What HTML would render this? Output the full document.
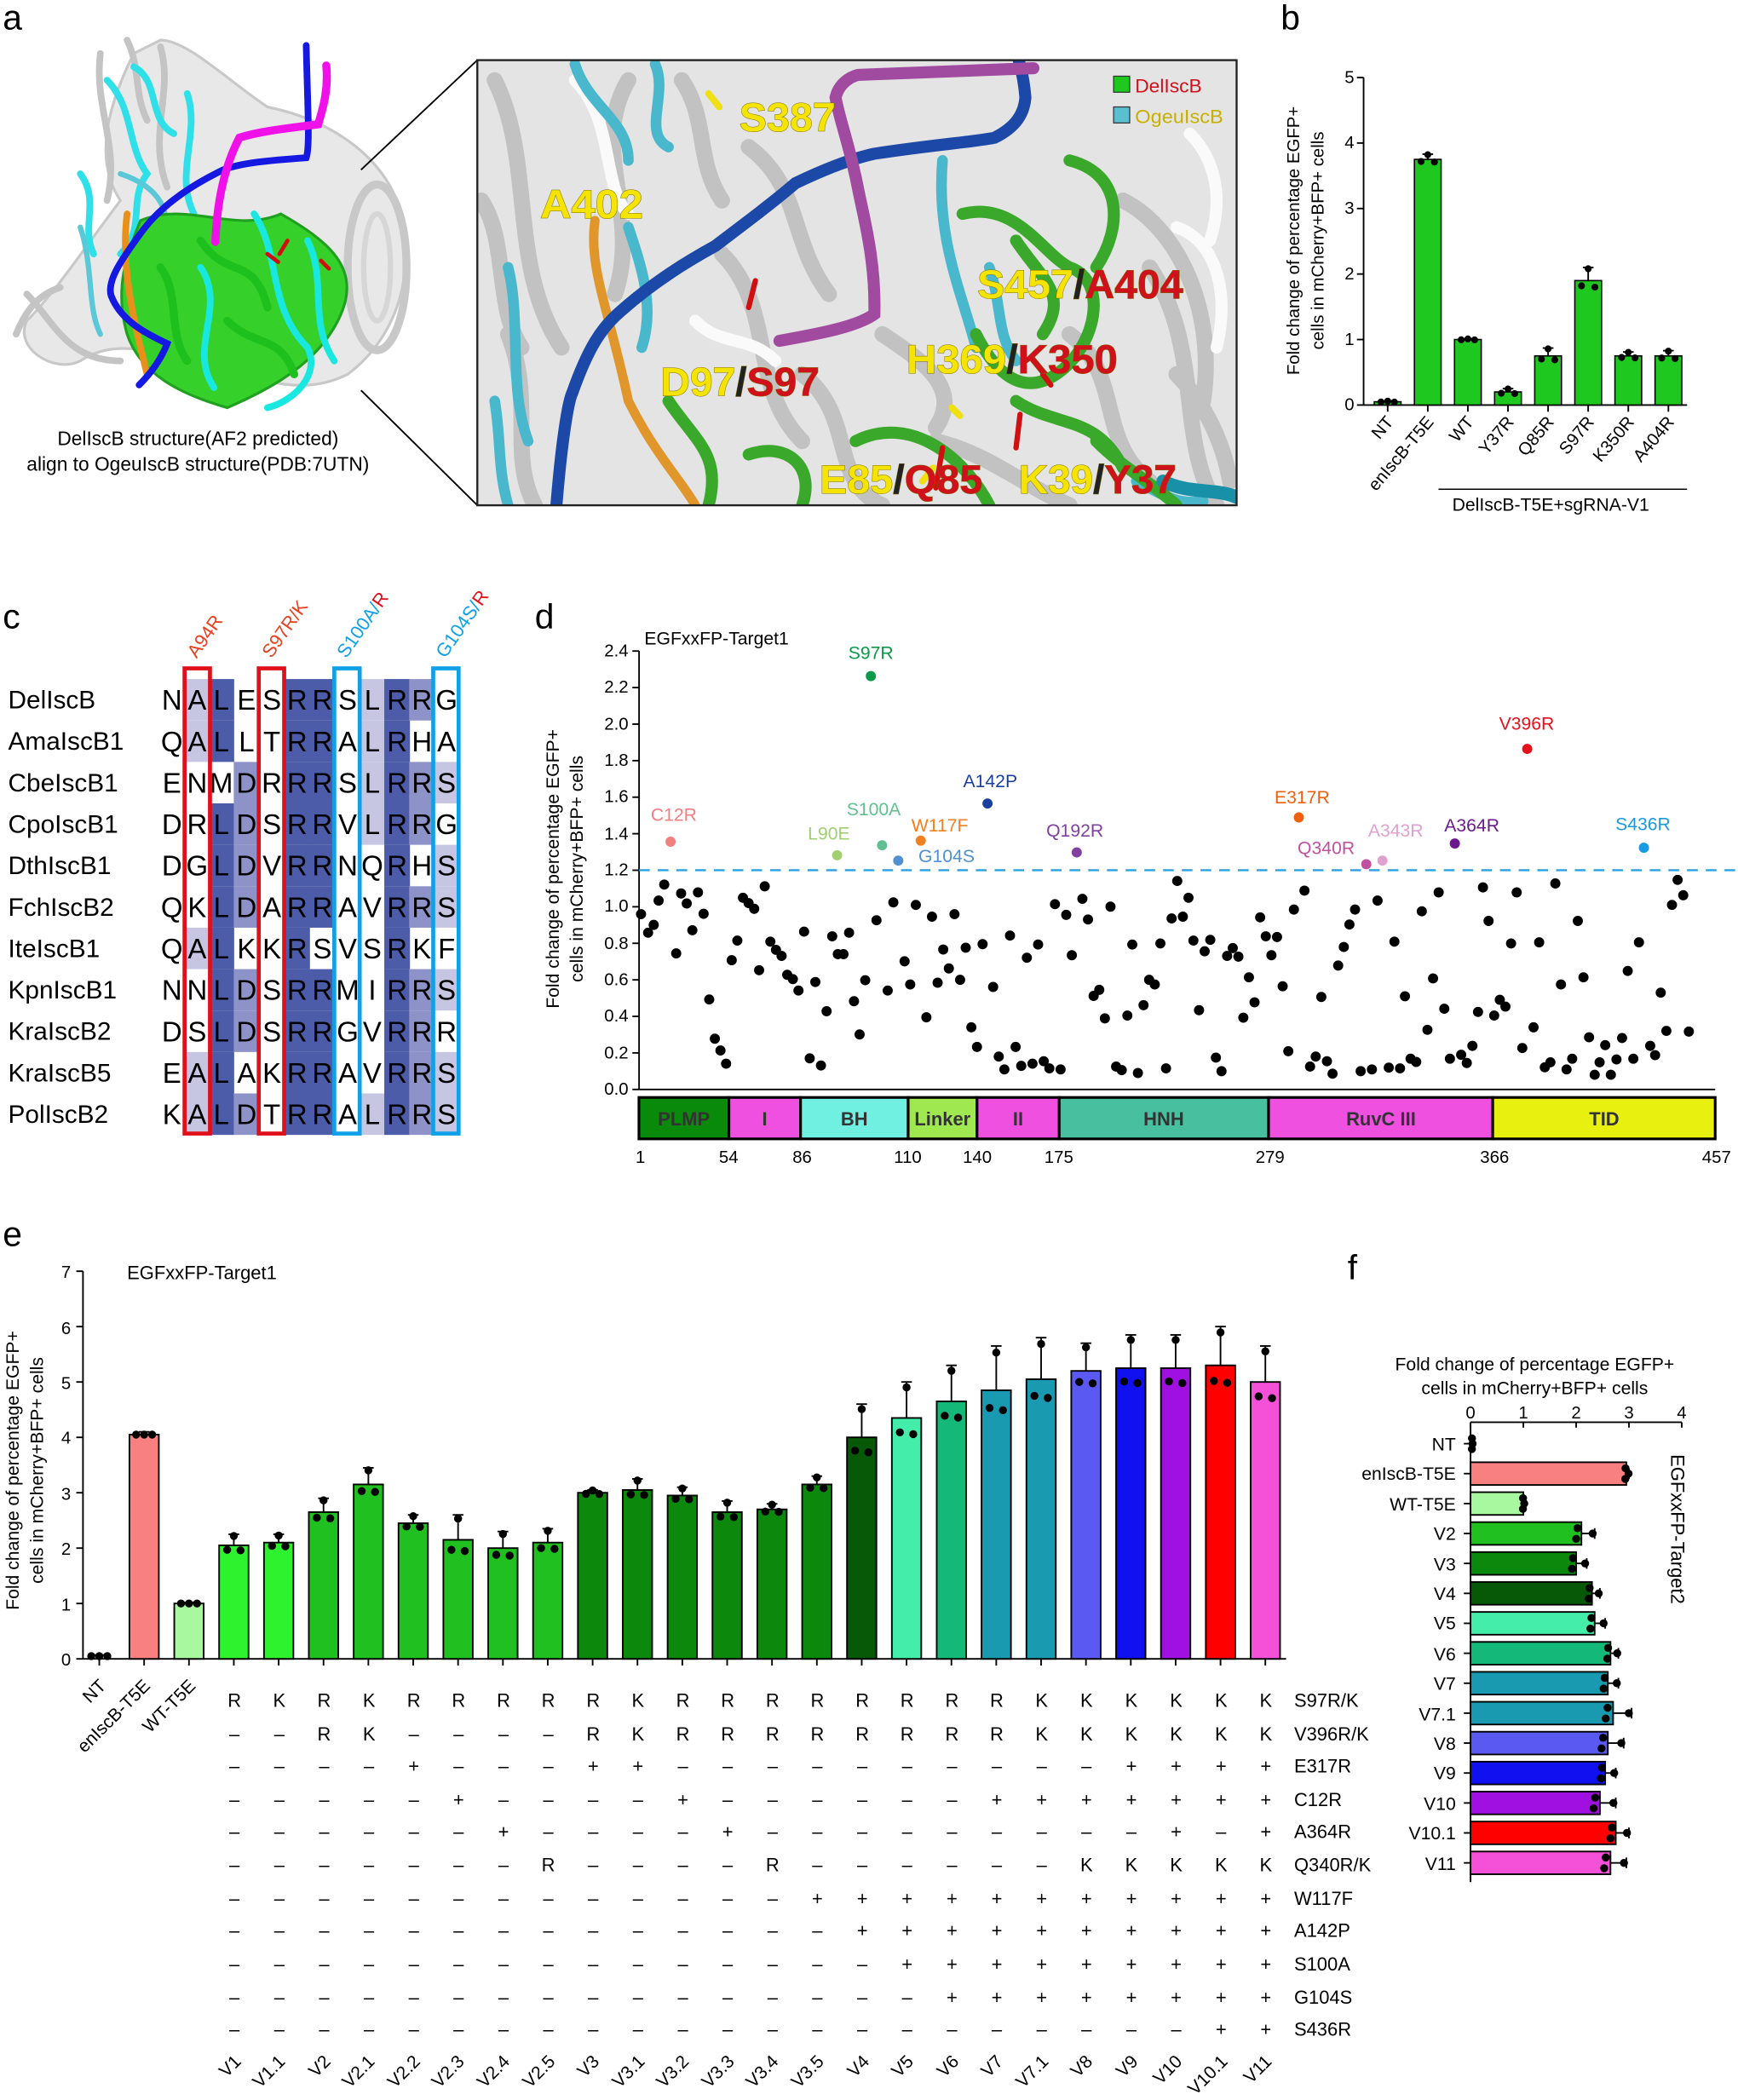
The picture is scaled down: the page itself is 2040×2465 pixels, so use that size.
<!DOCTYPE html>
<html><head><meta charset="utf-8"><style>
html,body{margin:0;padding:0;background:#fff}
svg{display:block}
text{font-family:"Liberation Sans",Arial,sans-serif}
</style></head><body>
<svg id="s" xmlns="http://www.w3.org/2000/svg" width="2040" height="2465" viewBox="0 0 1300 1571">
<rect width="1300" height="1571" fill="#fff"/>
<g font-size="26" fill="#000">
<text x="2" y="22">a</text><text x="958" y="22">b</text><text x="2" y="470">c</text>
<text x="400" y="470">d</text><text x="2" y="932">e</text><text x="1008" y="957">f</text>
</g>

<!-- ===== panel a left structure ===== -->
<g id="aleft" fill="none" stroke-linecap="round">
<path d="M100,40 C80,80 70,120 90,150 C60,190 40,220 20,240 C10,260 40,280 60,270 C90,250 120,270 140,260 C180,280 220,300 260,280 C300,250 310,200 300,160 C290,120 250,90 200,80 C170,60 140,30 120,30 Z" fill="#e8e8e8" stroke="#c8c8c8" stroke-width="2"/>
<path d="M75,40 C70,80 90,110 80,150 M120,35 C130,70 110,100 125,140 M20,220 C40,240 50,270 90,270 M12,250 C20,230 30,220 45,215 M95,30 C105,50 100,70 110,90" stroke="#c4c4c4" stroke-width="5"/>
<ellipse cx="282" cy="200" rx="22" ry="62" stroke="#c8c8c8" stroke-width="6"/>
<ellipse cx="282" cy="200" rx="10" ry="40" stroke="#d6d6d6" stroke-width="4"/>
<path d="M80,60 C100,80 95,110 110,130 C95,150 110,170 90,190 M140,70 C150,100 130,130 145,160 M100,50 C120,60 110,90 130,100 M60,130 C75,150 60,170 70,190" stroke="#30e0e8" stroke-width="5"/>
<path d="M60,170 C70,200 65,230 75,250 M90,130 C120,140 130,160 120,180" stroke="#5bc8d8" stroke-width="4"/>
<path d="M105,165 C140,150 175,175 210,160 C245,180 270,200 255,235 C240,270 205,290 170,305 C135,295 105,280 95,250 C85,215 95,190 105,165 Z" fill="#36d02a" stroke="#20a020" stroke-width="2"/>
<path d="M190,160 C210,190 200,230 230,260 C240,280 220,300 200,305 M150,200 C170,230 140,260 160,290 M230,180 C245,210 230,240 250,270" stroke="#18e8e0" stroke-width="5"/>
<path d="M120,200 C135,220 125,250 140,270 M150,180 C170,210 190,190 200,230 M170,240 C190,260 210,250 220,280" stroke="#1ec01e" stroke-width="6"/>
<path d="M95,160 C90,200 100,240 110,280" stroke="#e8901a" stroke-width="5"/>
<path d="M229,34 C230,80 232,110 229,118 C200,120 180,122 167,127 C140,140 120,155 107,172 C90,195 80,210 83,221 C90,240 110,250 125,257 C120,270 112,280 104,288" stroke="#1418e0" stroke-width="5"/>
<path d="M244,49 C246,70 240,85 238,93 C215,96 195,98 179,103 C165,130 162,160 161,181" stroke="#f010e8" stroke-width="6"/>
<path d="M200,190 l8,6 M215,180 l-6,10 M240,195 l6,6" stroke="#d01010" stroke-width="3"/>
</g>
<line x1="270" y1="127" x2="357" y2="45" stroke="#000" stroke-width="1.2"/>
<line x1="270" y1="292" x2="357" y2="378" stroke="#000" stroke-width="1.2"/>
<text x="148" y="333" font-size="14.5" text-anchor="middle">DelIscB structure(AF2 predicted)</text>
<text x="148" y="352" font-size="14.5" text-anchor="middle">align to OgeuIscB structure(PDB:7UTN)</text>

<!-- ===== panel a zoom box ===== -->
<defs><clipPath id="cb"><rect x="357" y="45" width="568" height="333"/></clipPath></defs>
<g clip-path="url(#cb)" fill="none" stroke-linecap="round">
<rect x="357" y="45" width="568" height="333" fill="#e4e4e4"/>
<path d="M370,60 C400,120 380,200 420,260 M470,60 C440,110 480,160 460,220 M840,150 C880,170 910,230 900,300 M860,200 C900,260 880,330 910,378 M380,250 C400,300 380,340 400,378 M540,190 C580,230 560,290 600,330 M600,280 C640,310 620,360 660,378 M800,250 C840,280 820,330 860,360 M700,330 C740,340 760,360 800,378 M360,150 C380,180 370,230 390,260 M560,110 C600,140 590,180 620,220 M660,250 C690,270 720,290 700,320 M880,280 C900,300 915,330 920,360 M510,60 C530,90 520,120 540,150" stroke="#c2c2c2" stroke-width="12"/>
<path d="M430,60 C460,90 450,140 470,160 M880,170 C910,180 920,220 910,260 M520,240 C540,260 560,250 580,270 M890,100 C910,120 915,150 905,180" stroke="#fafafa" stroke-width="9"/>
<path d="M430,48 C440,80 470,90 470,120 M490,48 C500,70 480,100 500,110 M705,120 C700,180 720,220 730,260 M380,200 C390,240 380,290 395,330 M470,170 C480,200 490,230 480,260 M850,360 C870,370 880,378 900,375 M370,300 C375,330 372,350 380,378 M740,200 C750,230 745,250 760,270" stroke="#4ab8cc" stroke-width="8"/>
<path d="M720,160 C760,150 780,190 800,200 C830,210 820,260 790,280 C760,300 740,270 730,250 M640,330 C680,310 720,340 740,378 M760,300 C790,320 820,310 840,350 M500,300 C520,330 540,340 530,378 M800,120 C840,130 840,170 820,200 M560,340 C590,330 610,350 600,378 M760,180 C780,210 800,220 780,250 M820,330 C840,350 860,360 880,378" stroke="#3aa82a" stroke-width="9"/>
<path d="M445,165 C440,200 455,230 470,300 C490,340 510,360 520,378" stroke="#e0962a" stroke-width="7"/>
<path d="M416,380 C420,330 425,300 428,294 C440,260 450,245 464,233 C490,210 515,195 535,184 C560,165 580,150 595,137 C620,125 640,118 654,115 C700,108 730,106 744,103 C760,95 766,85 767,73 C766,60 764,52 762,45" stroke="#1c48a8" stroke-width="9"/>
<path d="M583,255 C610,250 640,245 654,235 C655,200 648,170 643,147 C636,110 628,90 625,73 C628,60 640,56 643,56 C700,54 740,52 773,51" stroke="#a04aa0" stroke-width="9"/>
<path d="M870,360 C890,370 910,365 925,372" stroke="#1890a8" stroke-width="10"/>
<path d="M560,230 l5,-20 M700,365 l5,-30 M760,335 l3,-25 M780,280 l6,8" stroke="#d01010" stroke-width="4"/>
<path d="M530,70 l8,10 M712,305 l6,6 M690,360 l8,-10" stroke="#f0e010" stroke-width="5"/>
</g>
<rect x="357" y="45" width="568" height="333" fill="none" stroke="#222" stroke-width="1.5"/>
<rect x="833" y="57" width="12" height="12" fill="#1ec81e" stroke="#333" stroke-width="0.8"/>
<text x="849" y="69" font-size="14" fill="#d0101a" textLength="50" lengthAdjust="spacingAndGlyphs">DelIscB</text>
<rect x="833" y="80" width="12" height="12" fill="#5ac0d0" stroke="#333" stroke-width="0.8"/>
<text x="849" y="92" font-size="14" fill="#c8b000" textLength="66" lengthAdjust="spacingAndGlyphs">OgeuIscB</text>
<g font-size="30" font-weight="bold" stroke="#7a6a00" stroke-width="0.6" paint-order="stroke">
<text x="553" y="98" fill="#f5e400" textLength="72" lengthAdjust="spacingAndGlyphs">S387</text>
<text x="404" y="163" fill="#f5e400" textLength="77" lengthAdjust="spacingAndGlyphs">A402</text>
<text x="731" y="223" textLength="154" lengthAdjust="spacingAndGlyphs"><tspan fill="#f5e400">S457</tspan><tspan fill="#222">/</tspan><tspan fill="#d0101a">A404</tspan></text>
<text x="678" y="279" textLength="158" lengthAdjust="spacingAndGlyphs"><tspan fill="#f5e400">H369</tspan><tspan fill="#222">/</tspan><tspan fill="#d0101a">K350</tspan></text>
<text x="494" y="296" textLength="119" lengthAdjust="spacingAndGlyphs"><tspan fill="#f5e400">D97</tspan><tspan fill="#222">/</tspan><tspan fill="#d0101a">S97</tspan></text>
<text x="613" y="369" textLength="122" lengthAdjust="spacingAndGlyphs"><tspan fill="#f5e400">E85</tspan><tspan fill="#222">/</tspan><tspan fill="#d0101a">Q85</tspan></text>
<text x="762" y="369" textLength="118" lengthAdjust="spacingAndGlyphs"><tspan fill="#f5e400">K39</tspan><tspan fill="#222">/</tspan><tspan fill="#d0101a">Y37</tspan></text>
</g>

<!-- ===== panel b ===== -->
<g id="pb" font-size="13">
<g text-anchor="end">
<text x="1013" y="307">0</text><text x="1013" y="258">1</text><text x="1013" y="209">2</text><text x="1013" y="160">3</text><text x="1013" y="111">4</text><text x="1013" y="62">5</text>
</g>
<text transform="translate(972,180) rotate(-90)" text-anchor="middle" font-size="13">Fold change of percentage EGFP+</text>
<text transform="translate(990,180) rotate(-90)" text-anchor="middle" font-size="13">cells in mCherry+BFP+ cells</text>
<g font-size="13" text-anchor="end">
<text transform="translate(1043,316) rotate(-50)">NT</text>
<text transform="translate(1073,316) rotate(-50)">enIscB-T5E</text>
<text transform="translate(1103,316) rotate(-50)">WT</text>
<text transform="translate(1133,316) rotate(-50)">Y37R</text>
<text transform="translate(1163,316) rotate(-50)">Q85R</text>
<text transform="translate(1193,316) rotate(-50)">S97R</text>
<text transform="translate(1223,316) rotate(-50)">K350R</text>
<text transform="translate(1253,316) rotate(-50)">A404R</text>
</g>
<line x1="1076" y1="366" x2="1262" y2="366" stroke="#000" stroke-width="1"/>
<text x="1160" y="382" text-anchor="middle" font-size="13.5">DelIscB-T5E+sgRNA-V1</text>
</g>

<!-- ===== panel c ===== -->
<g id="pc"></g>
<g font-size="19" fill="#000">
<text x="6" y="530">DelIscB</text><text x="6" y="561">AmaIscB1</text><text x="6" y="592">CbeIscB1</text><text x="6" y="623">CpoIscB1</text><text x="6" y="654">DthIscB1</text><text x="6" y="685">FchIscB2</text><text x="6" y="716">IteIscB1</text><text x="6" y="747">KpnIscB1</text><text x="6" y="778">KraIscB2</text><text x="6" y="809">KraIscB5</text><text x="6" y="840">PolIscB2</text>
</g>
<g font-size="21" text-anchor="middle" fill="#000">
<text x="128.5 147.4 165.5 184.4 203.3 222.2 241.1 260 278.4 297 315.6 334" y="531">NALESRRSLRRG</text>
<text x="128.5 147.4 165.5 184.4 203.3 222.2 241.1 260 278.4 297 315.6 334" y="562">QALLTRRALRHA</text>
<text x="128.5 147.4 165.5 184.4 203.3 222.2 241.1 260 278.4 297 315.6 334" y="593">ENMDRRRSLRRS</text>
<text x="128.5 147.4 165.5 184.4 203.3 222.2 241.1 260 278.4 297 315.6 334" y="624">DRLDSRRVLRRG</text>
<text x="128.5 147.4 165.5 184.4 203.3 222.2 241.1 260 278.4 297 315.6 334" y="655">DGLDVRRNQRHS</text>
<text x="128.5 147.4 165.5 184.4 203.3 222.2 241.1 260 278.4 297 315.6 334" y="686">QKLDARRAVRRS</text>
<text x="128.5 147.4 165.5 184.4 203.3 222.2 241.1 260 278.4 297 315.6 334" y="717">QALKKRSVSRKF</text>
<text x="128.5 147.4 165.5 184.4 203.3 222.2 241.1 260 278.4 297 315.6 334" y="748">NNLDSRRMIRRS</text>
<text x="128.5 147.4 165.5 184.4 203.3 222.2 241.1 260 278.4 297 315.6 334" y="779">DSLDSRRGVRRR</text>
<text x="128.5 147.4 165.5 184.4 203.3 222.2 241.1 260 278.4 297 315.6 334" y="810">EALAKRRAVRRS</text>
<text x="128.5 147.4 165.5 184.4 203.3 222.2 241.1 260 278.4 297 315.6 334" y="841">KALDTRRALRRS</text>
</g>
<g fill="none" stroke-width="3">
<rect x="138" y="500" width="19" height="348" stroke="#e0101a"/>
<rect x="193.5" y="500" width="19" height="348" stroke="#e0101a"/>
<rect x="250" y="500" width="19" height="348" stroke="#10a0e8"/>
<rect x="324" y="500" width="19" height="348" stroke="#10a0e8"/>
</g>
<g font-size="14">
<text transform="translate(147,493) rotate(-55)" fill="#e84020">A94R</text>
<text transform="translate(203,493) rotate(-55)" fill="#e84020">S97R/K</text>
<text transform="translate(259,493) rotate(-55)"><tspan fill="#10a0e8">S100A/</tspan><tspan fill="#e0101a">R</tspan></text>
<text transform="translate(333,493) rotate(-55)"><tspan fill="#10a0e8">G104S/</tspan><tspan fill="#e0101a">R</tspan></text>
</g>

<!-- ===== panel d ===== -->
<text x="482" y="482" font-size="13.5">EGFxxFP-Target1</text>
<g font-size="13" text-anchor="end">
<text x="470" y="819">0.0</text><text x="470" y="792">0.2</text><text x="470" y="764">0.4</text><text x="470" y="737">0.6</text><text x="470" y="710">0.8</text><text x="470" y="682">1.0</text><text x="470" y="655">1.2</text><text x="470" y="628">1.4</text><text x="470" y="600">1.6</text><text x="470" y="573">1.8</text><text x="470" y="546">2.0</text><text x="470" y="518">2.2</text><text x="470" y="491">2.4</text>
</g>
<text transform="translate(418,650) rotate(-90)" text-anchor="middle" font-size="13.5">Fold change of percentage EGFP+</text>
<text transform="translate(436,650) rotate(-90)" text-anchor="middle" font-size="13.5">cells in mCherry+BFP+ cells</text>
<g id="pd"></g>
<g font-size="13.5" text-anchor="middle">
<text x="651.4" y="493" fill="#0a9a4a">S97R</text>
<text x="1142" y="546" fill="#e8101a">V396R</text>
<text x="740.7" y="589" fill="#1a3fa0">A142P</text>
<text x="974" y="601" fill="#f06010">E317R</text>
<text x="504" y="614" fill="#f08080">C12R</text>
<text x="620" y="628" fill="#a0d070">L90E</text>
<text x="653.5" y="610" fill="#60c090">S100A</text>
<text x="703" y="622" fill="#f08020">W117F</text>
<text x="708" y="645" fill="#5090d0">G104S</text>
<text x="804" y="626" fill="#8040a0">Q192R</text>
<text x="992" y="639" fill="#c050a0">Q340R</text>
<text x="1044" y="626" fill="#e0a0d0">A343R</text>
<text x="1101" y="622" fill="#6a1a8a">A364R</text>
<text x="1229" y="621" fill="#1a9ae0">S436R</text>
</g>
<g font-size="14" font-weight="bold" text-anchor="middle" fill="#333">
<text x="511.5" y="842">PLMP</text><text x="572" y="842">I</text><text x="639" y="842">BH</text><text x="705" y="842">Linker</text><text x="761.5" y="842">II</text><text x="870.5" y="842">HNH</text><text x="1033" y="842">RuvC III</text><text x="1200" y="842">TID</text>
</g>
<g font-size="13" text-anchor="middle">
<text x="479" y="870">1</text><text x="545" y="870">54</text><text x="600" y="870">86</text><text x="679" y="870">110</text><text x="731" y="870">140</text><text x="792" y="870">175</text><text x="950" y="870">279</text><text x="1118" y="870">366</text><text x="1284" y="870">457</text>
</g>

<!-- ===== panel e ===== -->
<text x="95" y="957" font-size="14">EGFxxFP-Target1</text>
<g font-size="13" text-anchor="end">
<text x="53" y="1246">0</text><text x="53" y="1205">1</text><text x="53" y="1163">2</text><text x="53" y="1122">3</text><text x="53" y="1080">4</text><text x="53" y="1039">5</text><text x="53" y="998">6</text><text x="53" y="956">7</text>
</g>
<text transform="translate(14,1100) rotate(-90)" text-anchor="middle" font-size="13.5">Fold change of percentage EGFP+</text>
<text transform="translate(32,1100) rotate(-90)" text-anchor="middle" font-size="13.5">cells in mCherry+BFP+ cells</text>
<g id="pe"></g>
<g font-size="13.5" text-anchor="end">
<text transform="translate(80,1262) rotate(-45)">NT</text>
<text transform="translate(113,1262) rotate(-45)">enIscB-T5E</text>
<text transform="translate(147,1262) rotate(-45)">WT-T5E</text>
</g>
<g font-size="14" text-anchor="middle">
<text x="175.3 208.9 242.4 276 309.5 343 376.6 410.1 443.7 477.2 510.8 544.3 577.9 611.4 645 678.5 712.1 745.6 779.2 812.7 846.3 879.8 913.4 946.9" y="1277">RKRKRRRRRKRRRRRRRRKKKKKK</text>
<text x="175.3 208.9 242.4 276 309.5 343 376.6 410.1 443.7 477.2 510.8 544.3 577.9 611.4 645 678.5 712.1 745.6 779.2 812.7 846.3 879.8 913.4 946.9" y="1302">––RK––––RKRRRRRRRRKKKKKK</text>
<text x="175.3 208.9 242.4 276 309.5 343 376.6 410.1 443.7 477.2 510.8 544.3 577.9 611.4 645 678.5 712.1 745.6 779.2 812.7 846.3 879.8 913.4 946.9" y="1326">––––+–––++––––––––––++++</text>
<text x="175.3 208.9 242.4 276 309.5 343 376.6 410.1 443.7 477.2 510.8 544.3 577.9 611.4 645 678.5 712.1 745.6 779.2 812.7 846.3 879.8 913.4 946.9" y="1351">–––––+––––+––––––+++++++</text>
<text x="175.3 208.9 242.4 276 309.5 343 376.6 410.1 443.7 477.2 510.8 544.3 577.9 611.4 645 678.5 712.1 745.6 779.2 812.7 846.3 879.8 913.4 946.9" y="1375">––––––+––––+–––––––––+–+</text>
<text x="175.3 208.9 242.4 276 309.5 343 376.6 410.1 443.7 477.2 510.8 544.3 577.9 611.4 645 678.5 712.1 745.6 779.2 812.7 846.3 879.8 913.4 946.9" y="1400">–––––––R––––R––––––KKKKK</text>
<text x="175.3 208.9 242.4 276 309.5 343 376.6 410.1 443.7 477.2 510.8 544.3 577.9 611.4 645 678.5 712.1 745.6 779.2 812.7 846.3 879.8 913.4 946.9" y="1425">–––––––––––––+++++++++++</text>
<text x="175.3 208.9 242.4 276 309.5 343 376.6 410.1 443.7 477.2 510.8 544.3 577.9 611.4 645 678.5 712.1 745.6 779.2 812.7 846.3 879.8 913.4 946.9" y="1449">––––––––––––––++++++++++</text>
<text x="175.3 208.9 242.4 276 309.5 343 376.6 410.1 443.7 477.2 510.8 544.3 577.9 611.4 645 678.5 712.1 745.6 779.2 812.7 846.3 879.8 913.4 946.9" y="1474">–––––––––––––––+++++++++</text>
<text x="175.3 208.9 242.4 276 309.5 343 376.6 410.1 443.7 477.2 510.8 544.3 577.9 611.4 645 678.5 712.1 745.6 779.2 812.7 846.3 879.8 913.4 946.9" y="1499">––––––––––––––––++++++++</text>
<text x="175.3 208.9 242.4 276 309.5 343 376.6 410.1 443.7 477.2 510.8 544.3 577.9 611.4 645 678.5 712.1 745.6 779.2 812.7 846.3 879.8 913.4 946.9" y="1523">––––––––––––––––––––––++</text>
</g>
<g font-size="14">
<text x="968" y="1277">S97R/K</text><text x="968" y="1302">V396R/K</text><text x="968" y="1326">E317R</text><text x="968" y="1351">C12R</text><text x="968" y="1375">A364R</text><text x="968" y="1400">Q340R/K</text><text x="968" y="1425">W117F</text><text x="968" y="1449">A142P</text><text x="968" y="1474">S100A</text><text x="968" y="1499">G104S</text><text x="968" y="1523">S436R</text>
</g>
<g font-size="13.5" text-anchor="end">
<text transform="translate(181,1543) rotate(-45)">V1</text>
<text transform="translate(214,1543) rotate(-45)">V1.1</text>
<text transform="translate(248,1543) rotate(-45)">V2</text>
<text transform="translate(281,1543) rotate(-45)">V2.1</text>
<text transform="translate(315,1543) rotate(-45)">V2.2</text>
<text transform="translate(348,1543) rotate(-45)">V2.3</text>
<text transform="translate(382,1543) rotate(-45)">V2.4</text>
<text transform="translate(416,1543) rotate(-45)">V2.5</text>
<text transform="translate(449,1543) rotate(-45)">V3</text>
<text transform="translate(483,1543) rotate(-45)">V3.1</text>
<text transform="translate(516,1543) rotate(-45)">V3.2</text>
<text transform="translate(550,1543) rotate(-45)">V3.3</text>
<text transform="translate(583,1543) rotate(-45)">V3.4</text>
<text transform="translate(617,1543) rotate(-45)">V3.5</text>
<text transform="translate(651,1543) rotate(-45)">V4</text>
<text transform="translate(684,1543) rotate(-45)">V5</text>
<text transform="translate(718,1543) rotate(-45)">V6</text>
<text transform="translate(751,1543) rotate(-45)">V7</text>
<text transform="translate(785,1543) rotate(-45)">V7.1</text>
<text transform="translate(818,1543) rotate(-45)">V8</text>
<text transform="translate(852,1543) rotate(-45)">V9</text>
<text transform="translate(885,1543) rotate(-45)">V10</text>
<text transform="translate(919,1543) rotate(-45)">V10.1</text>
<text transform="translate(952,1543) rotate(-45)">V11</text>
</g>

<!-- ===== panel f ===== -->
<text x="1148" y="1025" font-size="13.5" text-anchor="middle">Fold change of percentage EGFP+</text>
<text x="1148" y="1043" font-size="13.5" text-anchor="middle">cells in mCherry+BFP+ cells</text>
<g font-size="13" text-anchor="middle">
<text x="1100" y="1061">0</text><text x="1139.5" y="1061">1</text><text x="1179" y="1061">2</text><text x="1218.5" y="1061">3</text><text x="1258" y="1061">4</text>
</g>
<text transform="translate(1250,1088) rotate(90)" font-size="14">EGFxxFP-Target2</text>
<g font-size="13.5" text-anchor="end">
<text x="1089" y="1085">NT</text><text x="1089" y="1107">enIscB-T5E</text><text x="1089" y="1130">WT-T5E</text><text x="1089" y="1152">V2</text><text x="1089" y="1175">V3</text><text x="1089" y="1197">V4</text><text x="1089" y="1219">V5</text><text x="1089" y="1242">V6</text><text x="1089" y="1264">V7</text><text x="1089" y="1287">V7.1</text><text x="1089" y="1309">V8</text><text x="1089" y="1331">V9</text><text x="1089" y="1354">V10</text><text x="1089" y="1376">V10.1</text><text x="1089" y="1399">V11</text>
</g>
<g id="pf"></g>
</svg>
<script>
var NS="http://www.w3.org/2000/svg";
function el(t,a,p){var e=document.createElementNS(NS,t);for(var k in a)e.setAttribute(k,a[k]);(p||document.getElementById('s')).appendChild(e);return e;}
function line(x1,y1,x2,y2,p,w){return el('line',{x1:x1,y1:y1,x2:x2,y2:y2,stroke:'#000','stroke-width':w||1.2},p);}

(function(){
var pc=document.getElementById('pc');
var xs=[128.5,147.4,165.5,184.4,203.3,222.2,241.1,260,278.4,297,315.6,334];
var C={d:'#4c5ca8',m:'#8d92c8',l:'#c6c6e2',w:null};
var cols=['wwwwwwwwwww','llwwwwlwwll','ddwdddddddd','wwmmmmwmmwm','wwwwwwwwwww','ddddddddddd','ddddddwdddd','wwwwwwwwwww','llllwwwwwwl','ddddddddddd','mwmmwmwmmmm','wwlwllwlwll'];
for(var c=0;c<12;c++)for(var r=0;r<11;r++){var k=cols[c][r];if(C[k])el('rect',{x:xs[c]-9.6,y:508+r*31,width:19.2,height:31,fill:C[k]},pc);}
})();

(function(){
var g=document.getElementById('pb');
line(1020,58,1020,303,g);line(1020,303,1262,303,g);
for(var i=0;i<=5;i++)line(1015,303-i*49,1020,303-i*49,g);
var bx=[1038,1068,1098,1128,1158,1188,1218,1248],bv=[0.05,3.75,1,0.2,0.75,1.9,0.75,0.75],be=[.01,.08,.01,.05,.12,.2,.06,.08];
for(var i=0;i<8;i++){var y=303-bv[i]*49;line(bx[i],303,bx[i],308,g);
el('rect',{x:bx[i]-10,y:y,width:20,height:303-y,fill:'#1ec81e',stroke:'#000','stroke-width':1},g);
var ye=303-(bv[i]+be[i])*49;line(bx[i],y,bx[i],ye,g);line(bx[i]-4,ye,bx[i]+4,ye,g);
var dv=[bv[i]+be[i]*0.9,bv[i]-be[i]*0.4,bv[i]-be[i]*0.5],dx=[0,-5,5];
for(var j=0;j<3;j++)el('circle',{cx:bx[i]+dx[j],cy:303-dv[j]*49,r:2.6,fill:'#000'},g);}
})();

(function(){
var g=document.getElementById('pd');
function X(z){return 471.6+z*0.5257;}function Y(z){return 458.8+z*0.267;}
line(478,487,478,815,g);line(478,815,1283,815,g);
for(var i=0;i<=12;i++)line(473,815-i*27.33,478,815-i*27.33,g);
el('line',{x1:478,y1:651,x2:1300,y2:651,stroke:'#2aa0e0','stroke-width':1.5,'stroke-dasharray':'8,6'},g);
var P=[[15,843],[25,895],[33,873],[40,805],[48,760],[65,953],[72,785],[80,813],[88,888],[96,782],[104,842],[112,1082],[120,1192],[128,1225],[136,1262],[144,972],[152,917],[160,797],[168,812],[176,828],[183,1000],[191,765],[199,920],[207,943],[215,960],[223,1013],[231,1025],[239,1057],[247,892],[255,1247],[263,1033],[271,1267],[279,1115],[287,905],[295,955],[303,955],[311,895],[318,1087],[326,1180],[334,1028],[350,860],[366,1057],[374,810],[390,975],[398,1040],[406,817],[421,1132],[429,850],[437,1035],[445,942],[453,995],[461,843],[469,1027],[477,937],[485,1160],[493,1215],[501,927],[516,1047],[524,1242],[532,1278],[540,903],[548,1215],[556,1268],[564,965],[572,1262],[580,928],[588,1255],[596,1275],[604,815],[612,1278],[620,845],[628,958],[643,800],[651,858],[659,1072],[667,1055],[675,1135],[683,822],[691,1270],[699,1280],[707,1127],[714,928],[722,1288],[730,1098],[738,1027],[746,1040],[754,925],[762,1275],[770,855],[778,750],[786,850],[794,797],[801,917],[809,1112],[817,947],[825,915],[833,1245],[841,1283],[849,960],[857,938],[865,962],[872,1133],[880,1020],[888,1090],[896,852],[904,905],[912,958],[920,907],[928,1045],[936,1227],[944,830],[959,777],[967,1270],[975,1242],[983,1075],[991,1255],[999,1290],[1007,987],[1015,935],[1023,872],[1031,830],[1039,1283],[1055,1278],[1063,805],[1079,1273],[1087,920],[1095,1275],[1102,1073],[1110,1248],[1118,1257],[1126,835],[1134,1167],[1142,1023],[1150,782],[1158,1108],[1166,1248],[1182,1237],[1190,1260],[1198,1212],[1206,1117],[1213,768],[1221,862],[1229,1127],[1237,1083],[1245,1102],[1253,925],[1261,782],[1269,1218],[1285,1160],[1293,922],[1301,1272],[1309,1258],[1316,757],[1324,1040],[1332,1278],[1340,1248],[1348,862],[1356,1020],[1364,1188],[1372,1293],[1379,1258],[1387,1210],[1395,1293],[1403,1250],[1411,1190],[1419,1002],[1427,1248],[1435,922],[1451,1212],[1458,1238],[1466,1063],[1474,1170],[1482,817],[1490,747],[1498,790],[1506,1172]];
P.forEach(function(p){el('circle',{cx:X(p[0]),cy:Y(p[1]),r:3.8,fill:'#000'},g);});
var Q=[[342,176,'#0a9a4a'],[1276,380,'#e8101a'],[508,533,'#1a3fa0'],[951,572,'#f06010'],[57,640,'#f08080'],[294,678,'#a0d070'],[358,650,'#60c090'],[413,637,'#f08020'],[381,693,'#5090d0'],[635,670,'#8040a0'],[1047,703,'#c050a0'],[1070,693,'#e0a0d0'],[1173,645,'#6a1a8a'],[1442,657,'#1a9ae0']];
Q.forEach(function(p){el('circle',{cx:X(p[0]),cy:Y(p[1]),r:3.8,fill:p[2]},g);});
var D=[[477.9,545.2,'#0a8a0a'],[545.2,598.8,'#f050e0'],[598.8,679.3,'#70f0e0'],[679.3,730.8,'#a0e850'],[730.8,792.3,'#f050e0'],[792.3,948.9,'#48c0a0'],[948.9,1116.6,'#f050e0'],[1116.6,1283,'#e8f010']];
D.forEach(function(d){el('rect',{x:d[0],y:821,width:d[1]-d[0],height:31,fill:d[2],stroke:'#000','stroke-width':2},g);});
})();

(function(){
var g=document.getElementById('pe');
line(62,951,62,1241,g);line(62,1241,962,1241,g);
for(var i=0;i<=7;i++)line(57,1241-i*41.43,62,1241-i*41.43,g);
var v=[0.05,4.05,1,2.05,2.1,2.65,3.15,2.45,2.15,2.0,2.1,3.0,3.05,2.95,2.65,2.7,3.15,4.0,4.35,4.65,4.85,5.05,5.2,5.25,5.25,5.3,5.0];
var e=[.02,.05,.02,.2,.15,.25,.3,.15,.45,.3,.25,.05,.2,.15,.2,.1,.15,.6,.65,.65,.8,.75,.5,.6,.6,.7,.65];
var c=['#fff','#f88080','#a8f8a0','#2ef22e','#2ef22e','#20c020','#20c020','#20c020','#20c020','#20c020','#20c020','#0c880c','#0c880c','#0c880c','#0c880c','#0c880c','#0c880c','#075807','#44eeaa','#14b878','#1a9ab0','#1a9ab0','#5a5af2','#1010f0','#a010e0','#ff0000','#f450d8'];
for(var i=0;i<27;i++){var x=74.2+i*33.55,y=1241-v[i]*41.43;line(x,1241,x,1246,g);
if(i>0)el('rect',{x:x-11,y:y,width:22,height:1241-y,fill:c[i],stroke:'#000','stroke-width':1.2},g);
var ye=1241-(v[i]+e[i])*41.43;line(x,y,x,ye,g);line(x-4,ye,x+4,ye,g);
var dv=[v[i]+e[i]*0.85,v[i]-e[i]*0.4,v[i]-e[i]*0.45],dx=[0,-5,5];if(i<3){dv=[v[i],v[i],v[i]];dx=[-6,0,6];}
for(var j=0;j<3;j++)el('circle',{cx:x+dx[j],cy:1241-dv[j]*41.43,r:3,fill:'#000'},g);}
})();

(function(){
var g=document.getElementById('pf');
line(1100,1064,1258,1064,g);line(1100,1064,1100,1408,g);
for(var i=0;i<=4;i++)line(1100+i*39.5,1064,1100+i*39.5,1068,g);
var v=[0.03,2.95,1,2.1,2.0,2.3,2.35,2.65,2.6,2.7,2.6,2.55,2.45,2.75,2.65];
var e=[.01,.05,.02,.25,.2,.15,.2,.15,.2,.35,.3,.2,.3,.25,.3];
var c=['#fff','#f88080','#a8f8a0','#20c020','#0c880c','#075807','#44eeaa','#14b878','#1a9ab0','#1a9ab0','#5a5af2','#1010f0','#a010e0','#ff0000','#f450d8'];
for(var i=0;i<15;i++){var y=1080+i*22.4,w=v[i]*39.5;line(1095,y,1100,y,g);
if(i>0)el('rect',{x:1100,y:y-8.5,width:w,height:17,fill:c[i],stroke:'#000','stroke-width':1.2},g);
var xe=1100+(v[i]+e[i])*39.5;line(1100+w,y,xe,y,g);line(xe,y-4,xe,y+4,g);
var dv=[v[i]+e[i]*0.85,v[i]-e[i]*0.3,v[i]-e[i]*0.4],dy=[0,-4,4];
for(var j=0;j<3;j++)el('circle',{cx:1100+dv[j]*39.5,cy:y+dy[j],r:3,fill:'#000'},g);}
})();
</script>
</body></html>
